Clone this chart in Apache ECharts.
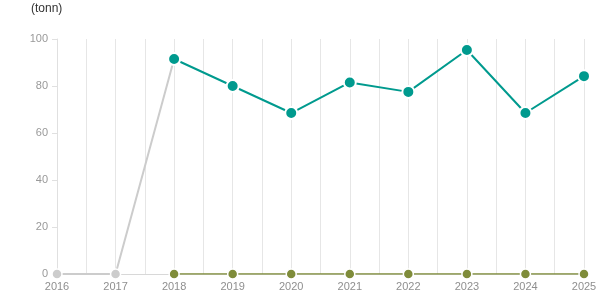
<!DOCTYPE html>
<html>
<head>
<meta charset="utf-8">
<script src="https://cdn.jsdelivr.net/npm/echarts@6/dist/echarts.min.js"></script>
<style>
html,body{margin:0;padding:0;background:#fff;}
#c{width:615px;height:305px;}
</style>
</head>
<body>
<div id="c"></div>
<script>
var years = [2016, 2017, 2018, 2019, 2020, 2021, 2022, 2023, 2024, 2025];
var grayValues = [0, 0, 91.5, null, null, null, null, null, null, null];
var oliveValues = [null, null, 0, 0, 0, 0, 0, 0, 0, 0];
var tealValues = [null, null, 91.5, 80, 68.5, 81.5, 77.5, 95.3, 68.5, 84.2];
var yTicks = [0, 20, 40, 60, 80, 100];
var unitLabel = '(tonn)';

function pairs(vals) {
  var out = [];
  for (var i = 0; i < years.length; i++) {
    if (vals[i] !== null) out.push([years[i], vals[i]]);
  }
  return out;
}

var chart = echarts.init(document.getElementById('c'), null, {renderer: 'canvas'});
var labelFont = 'Liberation Sans, Arial, sans-serif';
chart.setOption({
  animation: false,
  backgroundColor: '#ffffff',
  title: {
    text: unitLabel,
    left: 26, top: -2,
    textStyle: {fontSize: 12, fontWeight: 'normal', color: '#333', fontFamily: labelFont}
  },
  grid: {left: 57, right: 31, top: 39, bottom: 31, containLabel: false},
  xAxis: {
    type: 'value',
    min: years[0], max: years[years.length - 1],
    interval: 0.5,
    axisLine: {show: true, lineStyle: {color: '#d8d8d8', width: 1}},
    axisTick: {show: false},
    splitLine: {show: true, lineStyle: {color: '#e6e6e6', width: 1}},
    axisLabel: {
      color: '#8f8f8f', fontSize: 11, fontFamily: labelFont, margin: 7,
      formatter: function (v) { return (Math.abs(v - Math.round(v)) < 1e-6) ? String(Math.round(v)) : ''; }
    }
  },
  yAxis: {
    type: 'value',
    min: yTicks[0], max: yTicks[yTicks.length - 1], interval: 20,
    axisLine: {show: true, lineStyle: {color: '#e0e0e0', width: 1}},
    axisTick: {show: true, length: 5, lineStyle: {color: '#e0e0e0'}},
    splitLine: {show: false},
    axisLabel: {color: '#999999', fontSize: 11, fontFamily: labelFont, margin: 9}
  },
  series: [
    {
      type: 'line', data: pairs(grayValues),
      lineStyle: {color: '#cccccc', width: 2},
      itemStyle: {color: '#cccccc', borderColor: '#ffffff', borderWidth: 1.5},
      symbol: 'circle', symbolSize: 10, showAllSymbol: true, z: 2
    },
    {
      type: 'line', data: pairs(oliveValues),
      lineStyle: {color: '#7f8c3a', width: 1.5},
      itemStyle: {color: '#7f8c3a', borderColor: '#ffffff', borderWidth: 1.5},
      symbol: 'circle', symbolSize: 10, showAllSymbol: true, z: 3
    },
    {
      type: 'line', data: pairs(tealValues),
      lineStyle: {color: '#009a8e', width: 2},
      itemStyle: {color: '#009a8e', borderColor: '#ffffff', borderWidth: 2},
      symbol: 'circle', symbolSize: 12, showAllSymbol: true, z: 4
    }
  ]
});
</script>
</body>
</html>
